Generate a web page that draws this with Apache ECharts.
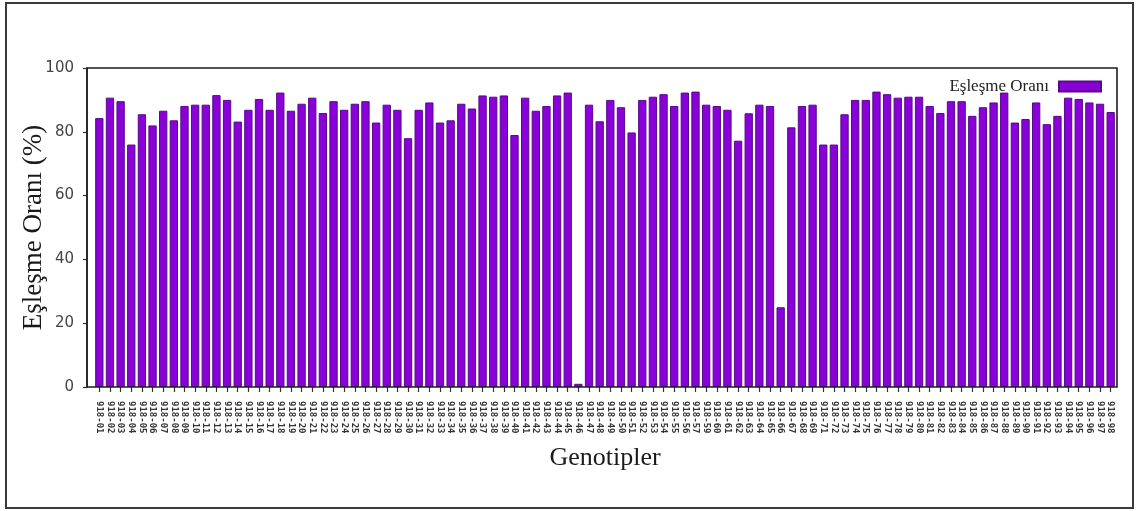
<!DOCTYPE html>
<html>
<head>
<meta charset="utf-8">
<script src="https://cdn.jsdelivr.net/npm/echarts@6/dist/echarts.min.js"></script>
<style>
  html, body { margin: 0; padding: 0; background: #fff; }
  #chart { width: 1139px; height: 511px; }
</style>
</head>
<body>
<div id="chart"></div>
<script>
const categories = [
  "918-01","918-02","918-03","918-04","918-05","918-06","918-07","918-08","918-09","918-10",
  "918-11","918-12","918-13","918-14","918-15","918-16","918-17","918-18","918-19","918-20",
  "918-21","918-22","918-23","918-24","918-25","918-26","918-27","918-28","918-29","918-30",
  "918-31","918-32","918-33","918-34","918-35","918-36","918-37","918-38","918-39","918-40",
  "918-41","918-42","918-43","918-44","918-45","918-46","918-47","918-48","918-49","918-50",
  "918-51","918-52","918-53","918-54","918-55","918-56","918-57","918-59","918-60",
  "918-61","918-62","918-63","918-64","918-65","918-66","918-67","918-68","918-69",
  "918-71","918-72","918-73","918-74","918-75","918-76","918-77","918-78","918-79","918-80",
  "918-81","918-82","918-83","918-84","918-85","918-86","918-87","918-88","918-89","918-90",
  "918-91","918-92","918-93","918-94","918-95","918-96","918-97","918-98"
];
const matchRate = [
  84.3, 90.7, 89.6, 76.0, 85.5, 82.0, 86.6, 83.6, 88.1, 88.5,
  88.5, 91.5, 90.0, 83.2, 86.9, 90.3, 86.9, 92.3, 86.6, 88.8,
  90.7, 85.9, 89.6, 86.9, 88.8, 89.6, 82.9, 88.5, 86.9, 78.0,
  86.9, 89.2, 82.9, 83.6, 88.8, 87.3, 91.4, 91.0, 91.4, 79.0,
  90.7, 86.6, 88.1, 91.4, 92.3, 1.0, 88.5, 83.3, 90.0, 87.7,
  79.8, 90.0, 91.0, 91.8, 88.1, 92.3, 92.6, 88.5, 88.1,
  86.9, 77.2, 85.8, 88.5, 88.1, 25.0, 81.4, 88.1, 88.5,
  76.0, 76.0, 85.5, 90.0, 90.0, 92.6, 91.8, 90.7, 91.0, 91.0,
  88.1, 85.9, 89.6, 89.6, 85.0, 87.7, 89.2, 92.3, 82.9, 84.0,
  89.2, 82.4, 85.0, 90.7, 90.3, 89.2, 88.8, 86.2
];
const yTicks = { min: 0, max: 100, interval: 20 };
const seriesName = "Eşleşme Oranı";
const yTitle = "Eşleşme Oranı (%)";
const xTitle = "Genotipler";

const W = 1139, H = 511;
const frameLeft = 87, frameRight = 22, gridTop = 68, gridBottom = 124;
const innerPad = 7;

const chart = echarts.init(document.getElementById('chart'), null, { renderer: 'canvas' });
chart.setOption({
  animation: false,
  backgroundColor: '#ffffff',
  graphic: [
    { type: 'rect', shape: { x: 6, y: 3, width: W - 12, height: H - 6 },
      style: { fill: 'none', stroke: '#3a3a3a', lineWidth: 2 }, z: 0 },
    { type: 'rect', shape: { x: frameLeft, y: gridTop, width: W - frameLeft - frameRight, height: H - gridTop - gridBottom },
      style: { fill: 'none', stroke: '#1e1e1e', lineWidth: 1.6 }, z: 5 }
  ],
  legend: {
    show: true,
    data: [seriesName],
    right: 32, top: 73,
    align: 'right',
    itemWidth: 42, itemHeight: 10,
    icon: 'rect',
    textStyle: { fontFamily: 'Liberation Serif', fontSize: 17, color: '#222', padding: [0, 5, 0, 0] }
  },
  grid: { left: frameLeft + innerPad, right: frameRight + 1, top: gridTop, bottom: gridBottom, containLabel: false },
  xAxis: {
    type: 'category',
    data: categories,
    boundaryGap: true,
    name: xTitle,
    nameLocation: 'middle',
    nameGap: 58,
    nameMoveOverlap: false,
    nameTextStyle: { fontFamily: 'Liberation Serif', fontSize: 26, color: '#1a1a1a' },
    axisLine: { show: false },
    axisTick: { show: true, alignWithLabel: true, length: 5, lineStyle: { color: '#333', width: 1.2 } },
    axisLabel: { interval: 0, rotate: -90, margin: 14, fontFamily: 'DejaVu Sans Mono', fontSize: 9, fontWeight: 'bold', color: '#333' },
    splitLine: { show: false }
  },
  yAxis: {
    type: 'value',
    min: yTicks.min, max: yTicks.max, interval: yTicks.interval,
    offset: innerPad,
    name: yTitle,
    nameLocation: 'middle',
    nameGap: 40,
    nameMoveOverlap: false,
    nameRotate: 90,
    nameTextStyle: { fontFamily: 'Liberation Serif', fontSize: 27, color: '#1a1a1a' },
    axisLine: { show: true, lineStyle: { color: '#333', width: 1.6 } },
    axisTick: { show: true, length: 4, lineStyle: { color: '#333', width: 1.2 } },
    axisLabel: { margin: 13, fontFamily: 'DejaVu Sans', fontSize: 15, color: '#444' },
    splitLine: { show: false }
  },
  series: [{
    name: seriesName,
    type: 'bar',
    data: matchRate,
    barCategoryGap: '22%',
    itemStyle: { color: '#8a00d8', borderColor: '#560a88', borderWidth: 1 }
  }]
});
</script>
</body>
</html>
